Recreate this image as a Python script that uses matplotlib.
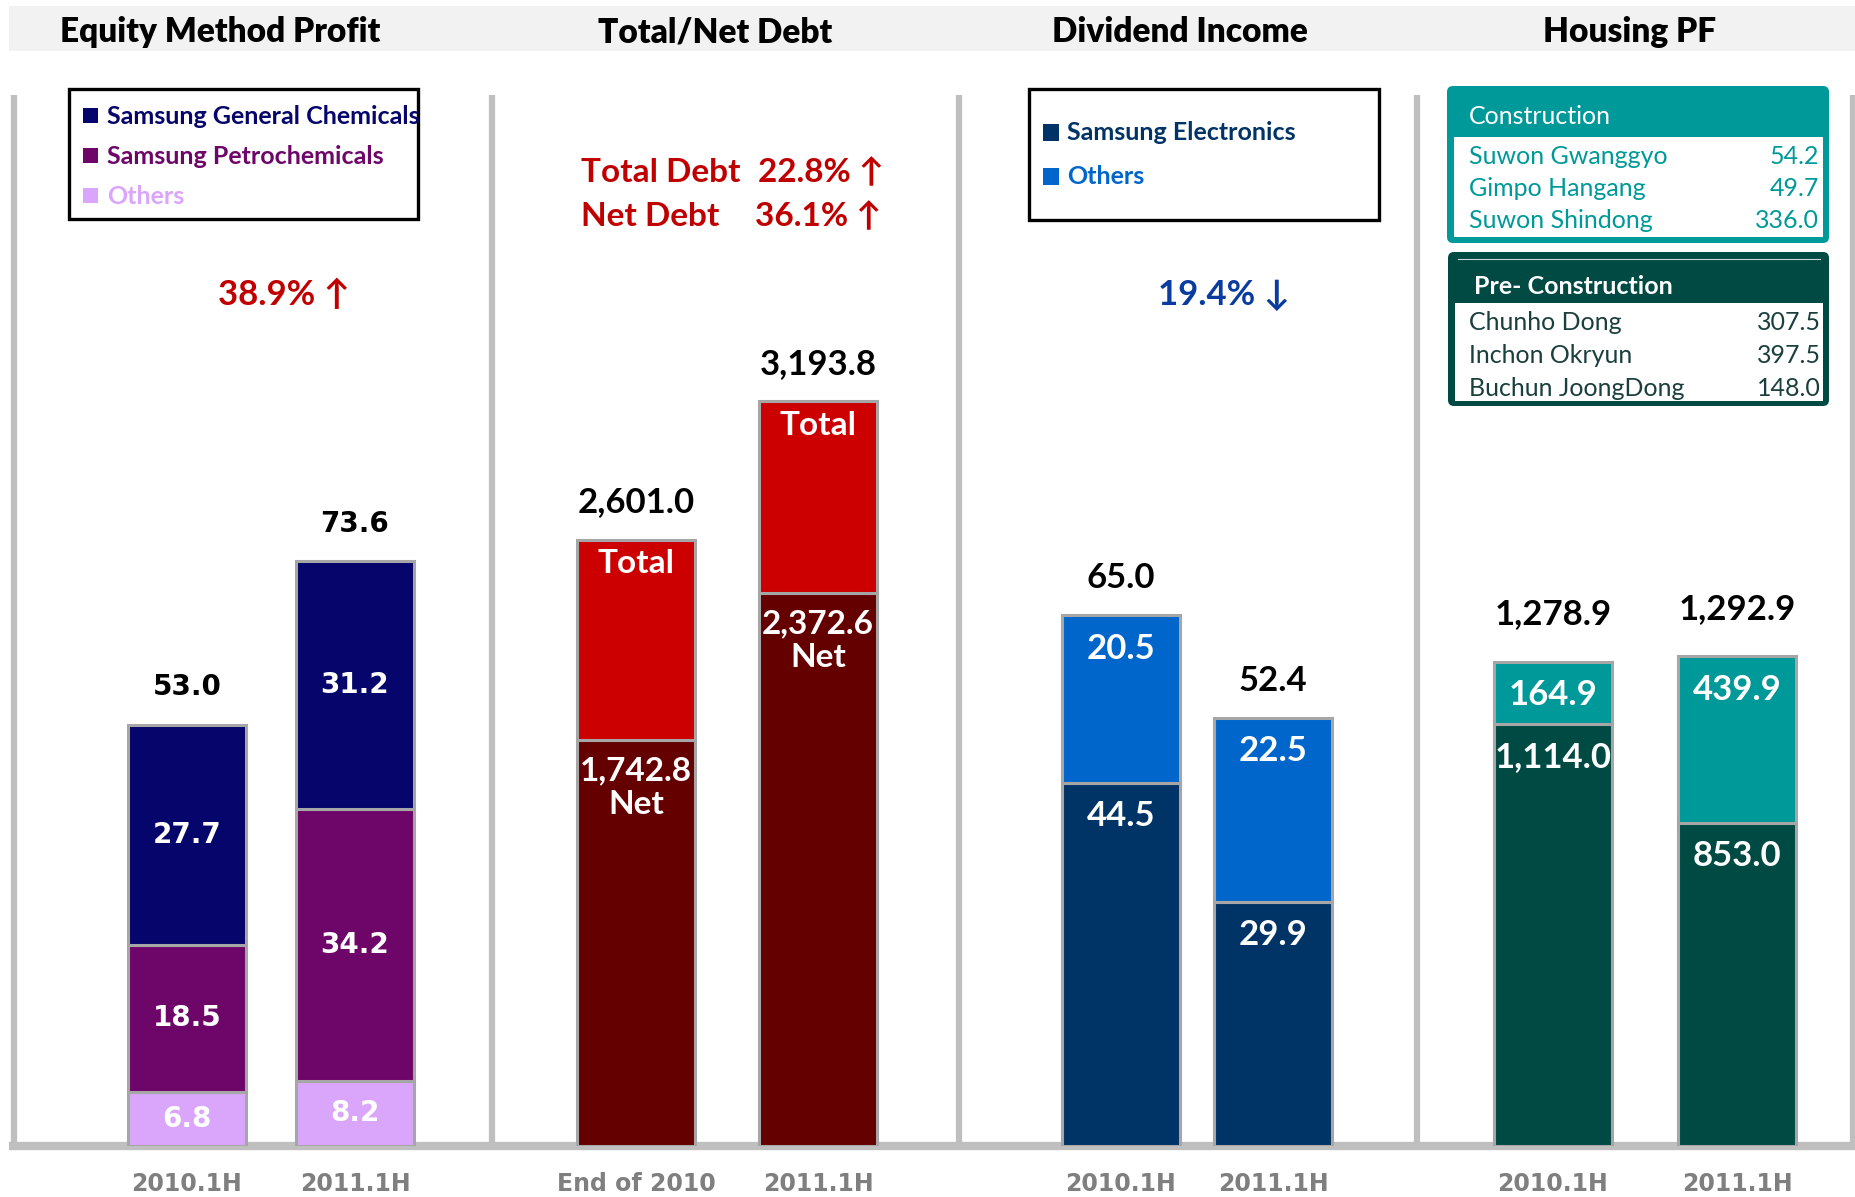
import numpy as np
import matplotlib.pyplot as plt
from matplotlib.patches import Rectangle, FancyBboxPatch

plt.rcParams['font.family'] = ['Lato', 'DejaVu Sans']

W, H = 1856, 1197

# ---- data ----
titles = ["Equity Method Profit", "Total/Net Debt", "Dividend Income", "Housing PF"]

equity_periods = ["2010.1H", "2011.1H"]
equity_series = ["Samsung General Chemicals", "Samsung Petrochemicals", "Others"]
equity_general_chem = [27.7, 31.2]
equity_petrochem = [18.5, 34.2]
equity_others = [6.8, 8.2]
equity_totals = [53.0, 73.6]
equity_change = "38.9%"

debt_periods = ["End of 2010", "2011.1H"]
debt_total = [2601.0, 3193.8]
debt_net = [1742.8, 2372.6]
debt_change_total = "22.8%"
debt_change_net = "36.1%"

div_periods = ["2010.1H", "2011.1H"]
div_series = ["Samsung Electronics", "Others"]
div_samsung_elec = [44.5, 29.9]
div_others = [20.5, 22.5]
div_totals = [65.0, 52.4]
div_change = "19.4%"

pf_periods = ["2010.1H", "2011.1H"]
pf_pre_construction = [1114.0, 853.0]
pf_construction = [164.9, 439.9]
pf_totals = [1278.9, 1292.9]

construction_sites = ["Suwon Gwanggyo", "Gimpo Hangang", "Suwon Shindong"]
construction_amounts = [54.2, 49.7, 336.0]
pre_construction_sites = ["Chunho Dong", "Inchon Okryun", "Buchun JoongDong"]
pre_construction_amounts = [307.5, 397.5, 148.0]

# ---- colours ----
NAVY, PURPLE, LAVENDER = "#05056B", "#6E066A", "#D9A6FB"
RED, DARK_RED = "#CC0000", "#640000"
DARK_BLUE, BLUE = "#003366", "#0066CC"
TEAL, DARK_TEAL = "#009999", "#004A44"
EDGE = "#A6A6A6"
SEP = "#BFBFBF"

fig = plt.figure(figsize=(W / 100, H / 100), dpi=100)

# background layer in pixel coordinates
bg = fig.add_axes([0, 0, 1, 1], zorder=0)
bg.set_xlim(0, W)
bg.set_ylim(H, 0)
bg.axis('off')

BASE_Y = 1146
TOP_Y = 95

bg.add_patch(Rectangle((9, 6), W - 9, 45, color="#F2F2F2", lw=0))
for tx, t in zip([220, 715, 1180, 1630], titles):
    bg.text(tx, 32, t, ha='center', va='center', fontsize=24, fontweight='heavy', color='black')

for sx in [14, 492, 959, 1417, 1853]:
    bg.plot([sx, sx], [TOP_Y, BASE_Y], color=SEP, lw=4.5, solid_capstyle='butt')
bg.plot([9, W], [BASE_Y, BASE_Y], color=SEP, lw=6, solid_capstyle='butt')


def make_panel(x0, x1, centers, ymax, labels):
    ax = fig.add_axes([x0 / W, 1 - BASE_Y / H, (x1 - x0) / W, (BASE_Y - TOP_Y) / H], zorder=1)
    ax.set_facecolor('none')
    unit = centers[1] - centers[0]
    ax.set_xlim((x0 - centers[0]) / unit, (x1 - centers[0]) / unit)
    ax.set_ylim(0, ymax)
    for s in ax.spines.values():
        s.set_visible(False)
    ax.set_yticks([])
    ax.set_xticks([0, 1], labels)
    ax.tick_params(axis='x', length=0, pad=19)
    for t in ax.get_xticklabels():
        t.set_fontfamily('DejaVu Sans')
        t.set_fontweight('bold')
        t.set_fontsize(17)
        t.set_color('#7F7F7F')
    return ax, 118 / unit


x = np.arange(2)
bar_kw = dict(edgecolor=EDGE, linewidth=2.2, zorder=3)
val_kw = dict(color='white', fontweight='bold', ha='center', va='center', zorder=5)

# ---- panel 1: equity method profit ----
ax1, bw = make_panel(14, 492, [187, 355], 132.3, equity_periods)
b1 = np.array(equity_others)
b2 = b1 + np.array(equity_petrochem)
ax1.bar(x, equity_others, bw, color=LAVENDER, **bar_kw)
ax1.bar(x, equity_petrochem, bw, bottom=b1, color=PURPLE, **bar_kw)
ax1.bar(x, equity_general_chem, bw, bottom=b2, color=NAVY, **bar_kw)
for i in x:
    for bot, v in [(0, equity_others[i]), (b1[i], equity_petrochem[i]), (b2[i], equity_general_chem[i])]:
        ax1.text(i, bot + v / 2, f"{v:.1f}", family='DejaVu Sans', fontsize=20, **val_kw)
    ax1.annotate(f"{equity_totals[i]:.1f}", (i, equity_totals[i]), xytext=(0, 27),
                 textcoords='offset points', ha='center', va='center',
                 family='DejaVu Sans', fontsize=20, fontweight='bold')

# ---- panel 2: total / net debt ----
ax2, bw = make_panel(492, 959, [636, 818], 4508, debt_periods)
ax2.bar(x, debt_net, bw, color=DARK_RED, **bar_kw)
ax2.bar(x, np.array(debt_total) - np.array(debt_net), bw, bottom=debt_net, color=RED, **bar_kw)
for i in x:
    ax2.annotate("Total", (i, debt_total[i]), xytext=(0, -7), textcoords='offset points',
                 fontsize=24, color='white', fontweight='bold', ha='center', va='top', zorder=5)
    ax2.annotate(f"{debt_net[i]:,.1f}\nNet", (i, debt_net[i]), xytext=(0, -12),
                 textcoords='offset points', fontsize=24, color='white', fontweight='bold',
                 ha='center', va='top', linespacing=1.2, zorder=5)
    ax2.annotate(f"{debt_total[i]:,.1f}", (i, debt_total[i]), xytext=(0, 27),
                 textcoords='offset points', ha='center', va='center', fontsize=25, fontweight='bold')

# ---- panel 3: dividend income ----
ax3, bw = make_panel(959, 1417, [1121, 1273], 128.7, div_periods)
ax3.bar(x, div_samsung_elec, bw, color=DARK_BLUE, **bar_kw)
ax3.bar(x, div_others, bw, bottom=div_samsung_elec, color=BLUE, **bar_kw)
for i in x:
    ax3.annotate(f"{div_samsung_elec[i]:.1f}", (i, div_samsung_elec[i]), xytext=(0, -24),
                 textcoords='offset points', fontsize=25, **val_kw)
    ax3.annotate(f"{div_others[i]:.1f}", (i, div_totals[i]), xytext=(0, -24),
                 textcoords='offset points', fontsize=25, **val_kw)
    ax3.annotate(f"{div_totals[i]:.1f}", (i, div_totals[i]), xytext=(0, 27),
                 textcoords='offset points', ha='center', va='center', fontsize=25, fontweight='bold')

# ---- panel 4: housing PF ----
ax4, bw = make_panel(1417, 1853, [1553, 1737], 2775, pf_periods)
ax4.bar(x, pf_pre_construction, bw, color=DARK_TEAL, **bar_kw)
ax4.bar(x, pf_construction, bw, bottom=pf_pre_construction, color=TEAL, **bar_kw)
for i in x:
    ax4.annotate(f"{pf_pre_construction[i]:,.1f}", (i, pf_pre_construction[i]), xytext=(0, -24),
                 textcoords='offset points', fontsize=25, **val_kw)
    ax4.annotate(f"{pf_construction[i]:,.1f}", (i, pf_totals[i]), xytext=(0, -24),
                 textcoords='offset points', fontsize=25, **val_kw)
    ax4.annotate(f"{pf_totals[i]:,.1f}", (i, pf_totals[i]), xytext=(0, 34),
                 textcoords='offset points', ha='center', va='center', fontsize=25, fontweight='bold')

# ---- legends / notes ----
bg.add_patch(Rectangle((69, 89), 349, 130, fill=False, ec='black', lw=2.4))
for k, (name, c) in enumerate(zip(equity_series, [NAVY, PURPLE, LAVENDER])):
    y = 117 + 40 * k
    bg.add_patch(Rectangle((83, y - 9), 15, 15, color=c, lw=0))
    bg.text(107, y, name, color=c, fontsize=18, fontweight='bold', va='center')

bg.add_patch(Rectangle((1029, 89), 350, 131, fill=False, ec='black', lw=2.4))
for k, (name, c) in enumerate(zip(div_series, [DARK_BLUE, BLUE])):
    y = 133 + 44 * k
    bg.add_patch(Rectangle((1043, y - 9), 16, 17, color=c, lw=0))
    bg.text(1067, y, name, color=c, fontsize=18, fontweight='bold', va='center')

note_kw = dict(fontsize=25, fontweight='bold', va='center')
bg.text(284, 295, f"{equity_change} \u2191", color="#C00000", ha='center', **note_kw)
bg.text(1224, 295, f"{div_change} \u2193", color="#0A3CA0", ha='center', **note_kw)
debt_kw = dict(note_kw, fontsize=24)
bg.text(581, 172, "Total Debt", color="#C00000", ha='left', **debt_kw)
bg.text(758, 172, f"{debt_change_total} \u2191", color="#C00000", ha='left', **debt_kw)
bg.text(581, 216, "Net Debt", color="#C00000", ha='left', **debt_kw)
bg.text(755, 216, f"{debt_change_net} \u2191", color="#C00000", ha='left', **debt_kw)

# ---- housing PF tables ----
bg.add_patch(FancyBboxPatch((1447, 86), 382, 157, boxstyle="round,pad=0,rounding_size=6",
                            fc=TEAL, ec='none'))
bg.add_patch(Rectangle((1454, 137), 369, 100, fc='white', ec='none'))
bg.text(1469, 117, "Construction", color='white', fontsize=18, va='center')
for k, (name, v) in enumerate(zip(construction_sites, construction_amounts)):
    y = 157 + 32 * k
    bg.text(1469, y, name, color=TEAL, fontsize=18, va='center')
    bg.text(1819, y, f"{v:.1f}", color=TEAL, fontsize=18, va='center', ha='right')

bg.add_patch(FancyBboxPatch((1448, 252), 381, 154, boxstyle="round,pad=0,rounding_size=6",
                            fc=DARK_TEAL, ec='none'))
bg.plot([1458, 1820], [259, 259], color='#C8D8D6', lw=0.8)
bg.add_patch(Rectangle((1455, 303), 368, 98, fc='white', ec='none'))
bg.text(1474, 286, "Pre- Construction", color='white', fontsize=18, fontweight='bold', va='center')
for k, (name, v) in enumerate(zip(pre_construction_sites, pre_construction_amounts)):
    y = 323 + 32.5 * k
    bg.text(1469, y, name, color="#1A3F3C", fontsize=18, va='center')
    bg.text(1821, y, f"{v:.1f}", color="#1A3F3C", fontsize=18, va='center', ha='right')

fig.savefig("out.png", dpi=100)
